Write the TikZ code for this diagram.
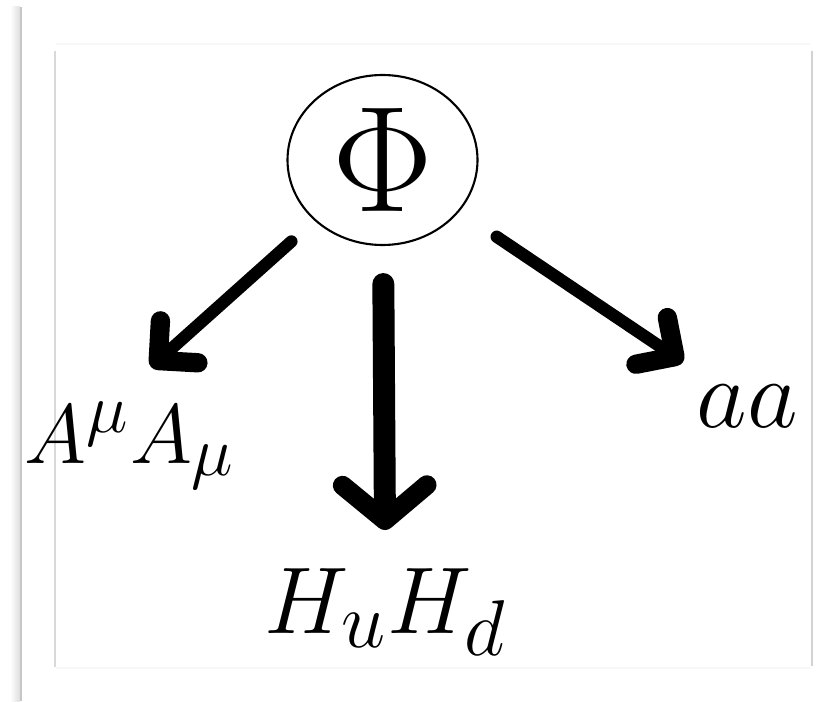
\documentclass[tikz,border=0pt]{standalone}
\usepackage{amsmath}
\usepackage{graphicx}
\usepackage{tikz}
\usetikzlibrary{arrows.meta,positioning,shapes.geometric}

\begin{document}
\begin{tikzpicture}[
  field/.style={ellipse,draw,line width=1.2pt,minimum width=3.8cm,minimum height=3.4cm,inner sep=0pt},
  decay/.style={line width=7pt,line cap=round,
    -{Straight Barb[length=16pt,width=32pt,line width=11pt,round]}},
  bigdecay/.style={line width=12.5pt,line cap=round,
    -{Straight Barb[length=20pt,width=48pt,line width=11pt,round]}},
  prod/.style={anchor=base,inner sep=0pt,font=\Huge}
]
\useasboundingbox (0,0) rectangle (16.78,14.02);
%--- page edge and frame ---
\shade[left color=white,right color=gray!25] (0.2,0) rectangle (0.39,13.88);
\draw[gray!45,line width=1.2pt] (0.42,0) -- (0.42,13.88);
\draw[gray!6,line width=0.8pt] (1.12,13.14) -- (16.2,13.14);
\draw[gray!6,line width=0.8pt] (1.12,0.66) -- (16.2,0.66);
\draw[gray!30,line width=0.8pt] (1.10,13.0) -- (1.10,0.68);
\draw[gray!35,line width=1pt] (16.24,13.0) -- (16.24,0.7);

%--- parent field ---
\node[field,font=\Huge] (phi) at (7.65,10.82) {\scalebox{3.45}{$\Phi$}};

%--- decay products ---
\node[prod] (AA) at (2.6,4.76) {\scalebox{1.93}{$A^\mu A_\mu$}};
\node[prod] (HH) at (7.71,1.36) {\scalebox{2.17}{$H_u H_d$}};
\node[prod] (aa) at (14.95,5.48) {\scalebox{2.25}{$aa$}};

\coordinate (tipL) at (3.02,6.68);
\coordinate (tipM) at (7.70,3.42);
\coordinate (tipR) at (13.66,6.78);

%--- arrows ---
\draw[decay,shorten <=0.62cm] (phi) -- (tipL);
\draw[bigdecay,shorten <=0.76cm] (phi) -- (tipM);
\draw[decay,shorten <=0.9cm] (phi) -- (tipR);
\end{tikzpicture}
\end{document}
